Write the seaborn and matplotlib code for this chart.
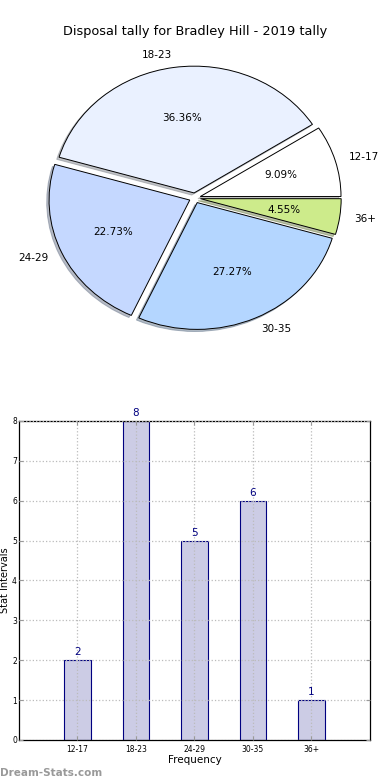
import matplotlib
matplotlib.use('Agg')
import matplotlib.pyplot as plt
import pandas as pd
import seaborn as sns

# data
intervals = ['12-17', '18-23', '24-29', '30-35', '36+']
counts = [2, 8, 5, 6, 1]
pie_colors = ['#ffffff', '#eaf1ff', '#c5d8ff', '#b4d6ff', '#cdeb8b']
title = 'Disposal tally for Bradley Hill - 2019 tally'

df = pd.DataFrame({'interval': intervals, 'count': counts})

plt.rcParams['font.family'] = ['DejaVu Sans']
fig = plt.figure(figsize=(3.9, 7.8), dpi=100)

# pie
ax1 = fig.add_axes([0.0487, 0.543, 0.902, 0.4064])
wedges, texts, autotexts = ax1.pie(df['count'], labels=df['interval'], colors=pie_colors,
                                   explode=[0.04] * len(counts), autopct='%.2f%%',
                                   shadow={'ox': -0.012, 'oy': -0.012, 'shade': 0.45},
                                   startangle=0, counterclock=True,
                                   wedgeprops={'edgecolor': 'black', 'linewidth': 0.7},
                                   textprops={'fontsize': 7.5})
ax1.set_aspect('auto')
ax1.set_xlim(-1.25, 1.25)
ax1.set_ylim(-1.25, 1.25)
ax1.set_title(title, fontsize=9.3, pad=3)

# bars
ax2 = fig.add_axes([0.0487, 0.0513, 0.9, 0.409])
sns.barplot(x='interval', y='count', data=df, order=intervals, color='#cccce5',
            edgecolor='navy', linewidth=0.8, width=0.45, saturation=1, ax=ax2)
for c in ax2.containers:
    ax2.bar_label(c, padding=2, color='navy', fontsize=7.5)
ax2.set_xlim(-1, 5)
ax2.set_ylim(0, 8)
ax2.set_yticks(range(0, 9))
ax2.grid(True, linestyle=':', color='#bbbbbb', linewidth=0.9)
ax2.set_axisbelow(False)
for b in ax2.patches:
    b.set_zorder(1)
ax2.tick_params(labelsize=5.5, direction='in', length=3, color='#999999', top=True, right=True)
ax2.tick_params(axis='y', pad=1.5)
ax2.set_xlabel('Frequency', fontsize=7.5, labelpad=1)
ax2.set_ylabel('Stat Intervals', fontsize=7)
ax2.yaxis.set_label_coords(-0.025, 0.5)
for s in ax2.spines.values():
    s.set_linewidth(0.9)

fig.text(0.0, 0.0045, 'Dream-Stats.com', color='#999999', fontsize=7.5, fontweight='bold')

fig.savefig('out.png', dpi=100)
